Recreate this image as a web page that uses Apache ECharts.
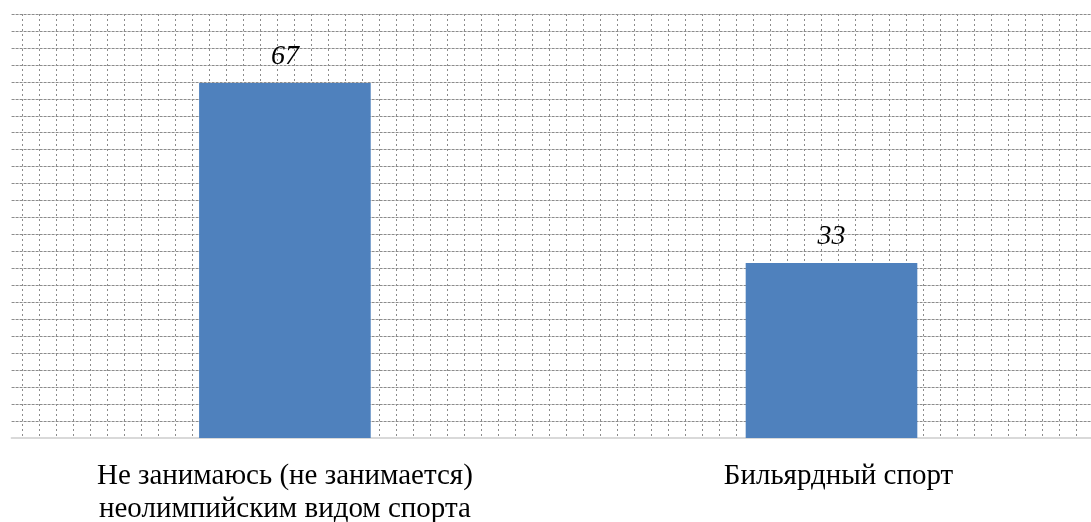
<!DOCTYPE html>
<html>
<head>
<meta charset="utf-8">
<script src="https://cdn.jsdelivr.net/npm/echarts@6/dist/echarts.min.js"></script>
<style>
html,body{margin:0;padding:0;background:#fff;}
#chart{width:1091px;height:522px;}
</style>
</head>
<body>
<div id="chart"></div>
<script>
const categories = ["Не занимаюсь (не занимается)\nнеолимпийским видом спорта", "Бильярдный спорт"];
const values = [67, 33];

const categoryData = categories.map((c, i) =>
  i === 1 ? {value: c, textStyle: {padding: [0, 0, 0, 14]}} : {value: c});

const chart = echarts.init(document.getElementById('chart'), null, {renderer: 'canvas'});
chart.setOption({
  animation: false,
  backgroundColor: '#ffffff',
  grid: [
    {left: 11.6, width: 1093.2, top: 14, bottom: 84, containLabel: false, outerBoundsMode: 'none'},
    {left: 5.7, right: 0, top: 14, bottom: 84, containLabel: false, outerBoundsMode: 'none'}
  ],
  xAxis: [
    {
      type: 'category', data: categoryData, gridIndex: 0,
      axisLine: {show: true, lineStyle: {color: '#d9d9d9', width: 2}},
      axisTick: {show: false},
      axisLabel: {
        interval: 0, margin: 22, color: '#000',
        fontFamily: 'Liberation Serif', fontSize: 29, lineHeight: 33
      },
      splitLine: {show: false}
    },
    {
      type: 'value', gridIndex: 1, min: 0, max: 1085.3, interval: 17,
      axisLine: {show: false}, axisTick: {show: false}, axisLabel: {show: false},
      splitLine: {show: true, showMinLine: false, showMaxLine: false,
        lineStyle: {color: '#8c8c8c', type: [2, 3], width: 1}}
    }
  ],
  yAxis: [
    {
      type: 'value', gridIndex: 0, min: 0, max: 80, interval: 3.2,
      axisLine: {show: false}, axisTick: {show: false}, axisLabel: {show: false},
      splitLine: {show: true, lineStyle: {color: '#8c8c8c', type: [3, 1], width: 1}}
    },
    {
      type: 'value', gridIndex: 1, min: 0, max: 80, show: false,
      splitLine: {show: false}
    }
  ],
  series: [{
    type: 'bar', xAxisIndex: 0, yAxisIndex: 0, data: values,
    barWidth: '31.4%', z: 5,
    itemStyle: {color: '#4f81bd'},
    label: {
      show: true, position: 'top', distance: 12, color: '#000',
      fontFamily: 'Liberation Serif', fontStyle: 'italic', fontSize: 28
    }
  }]
});
</script>
</body>
</html>
